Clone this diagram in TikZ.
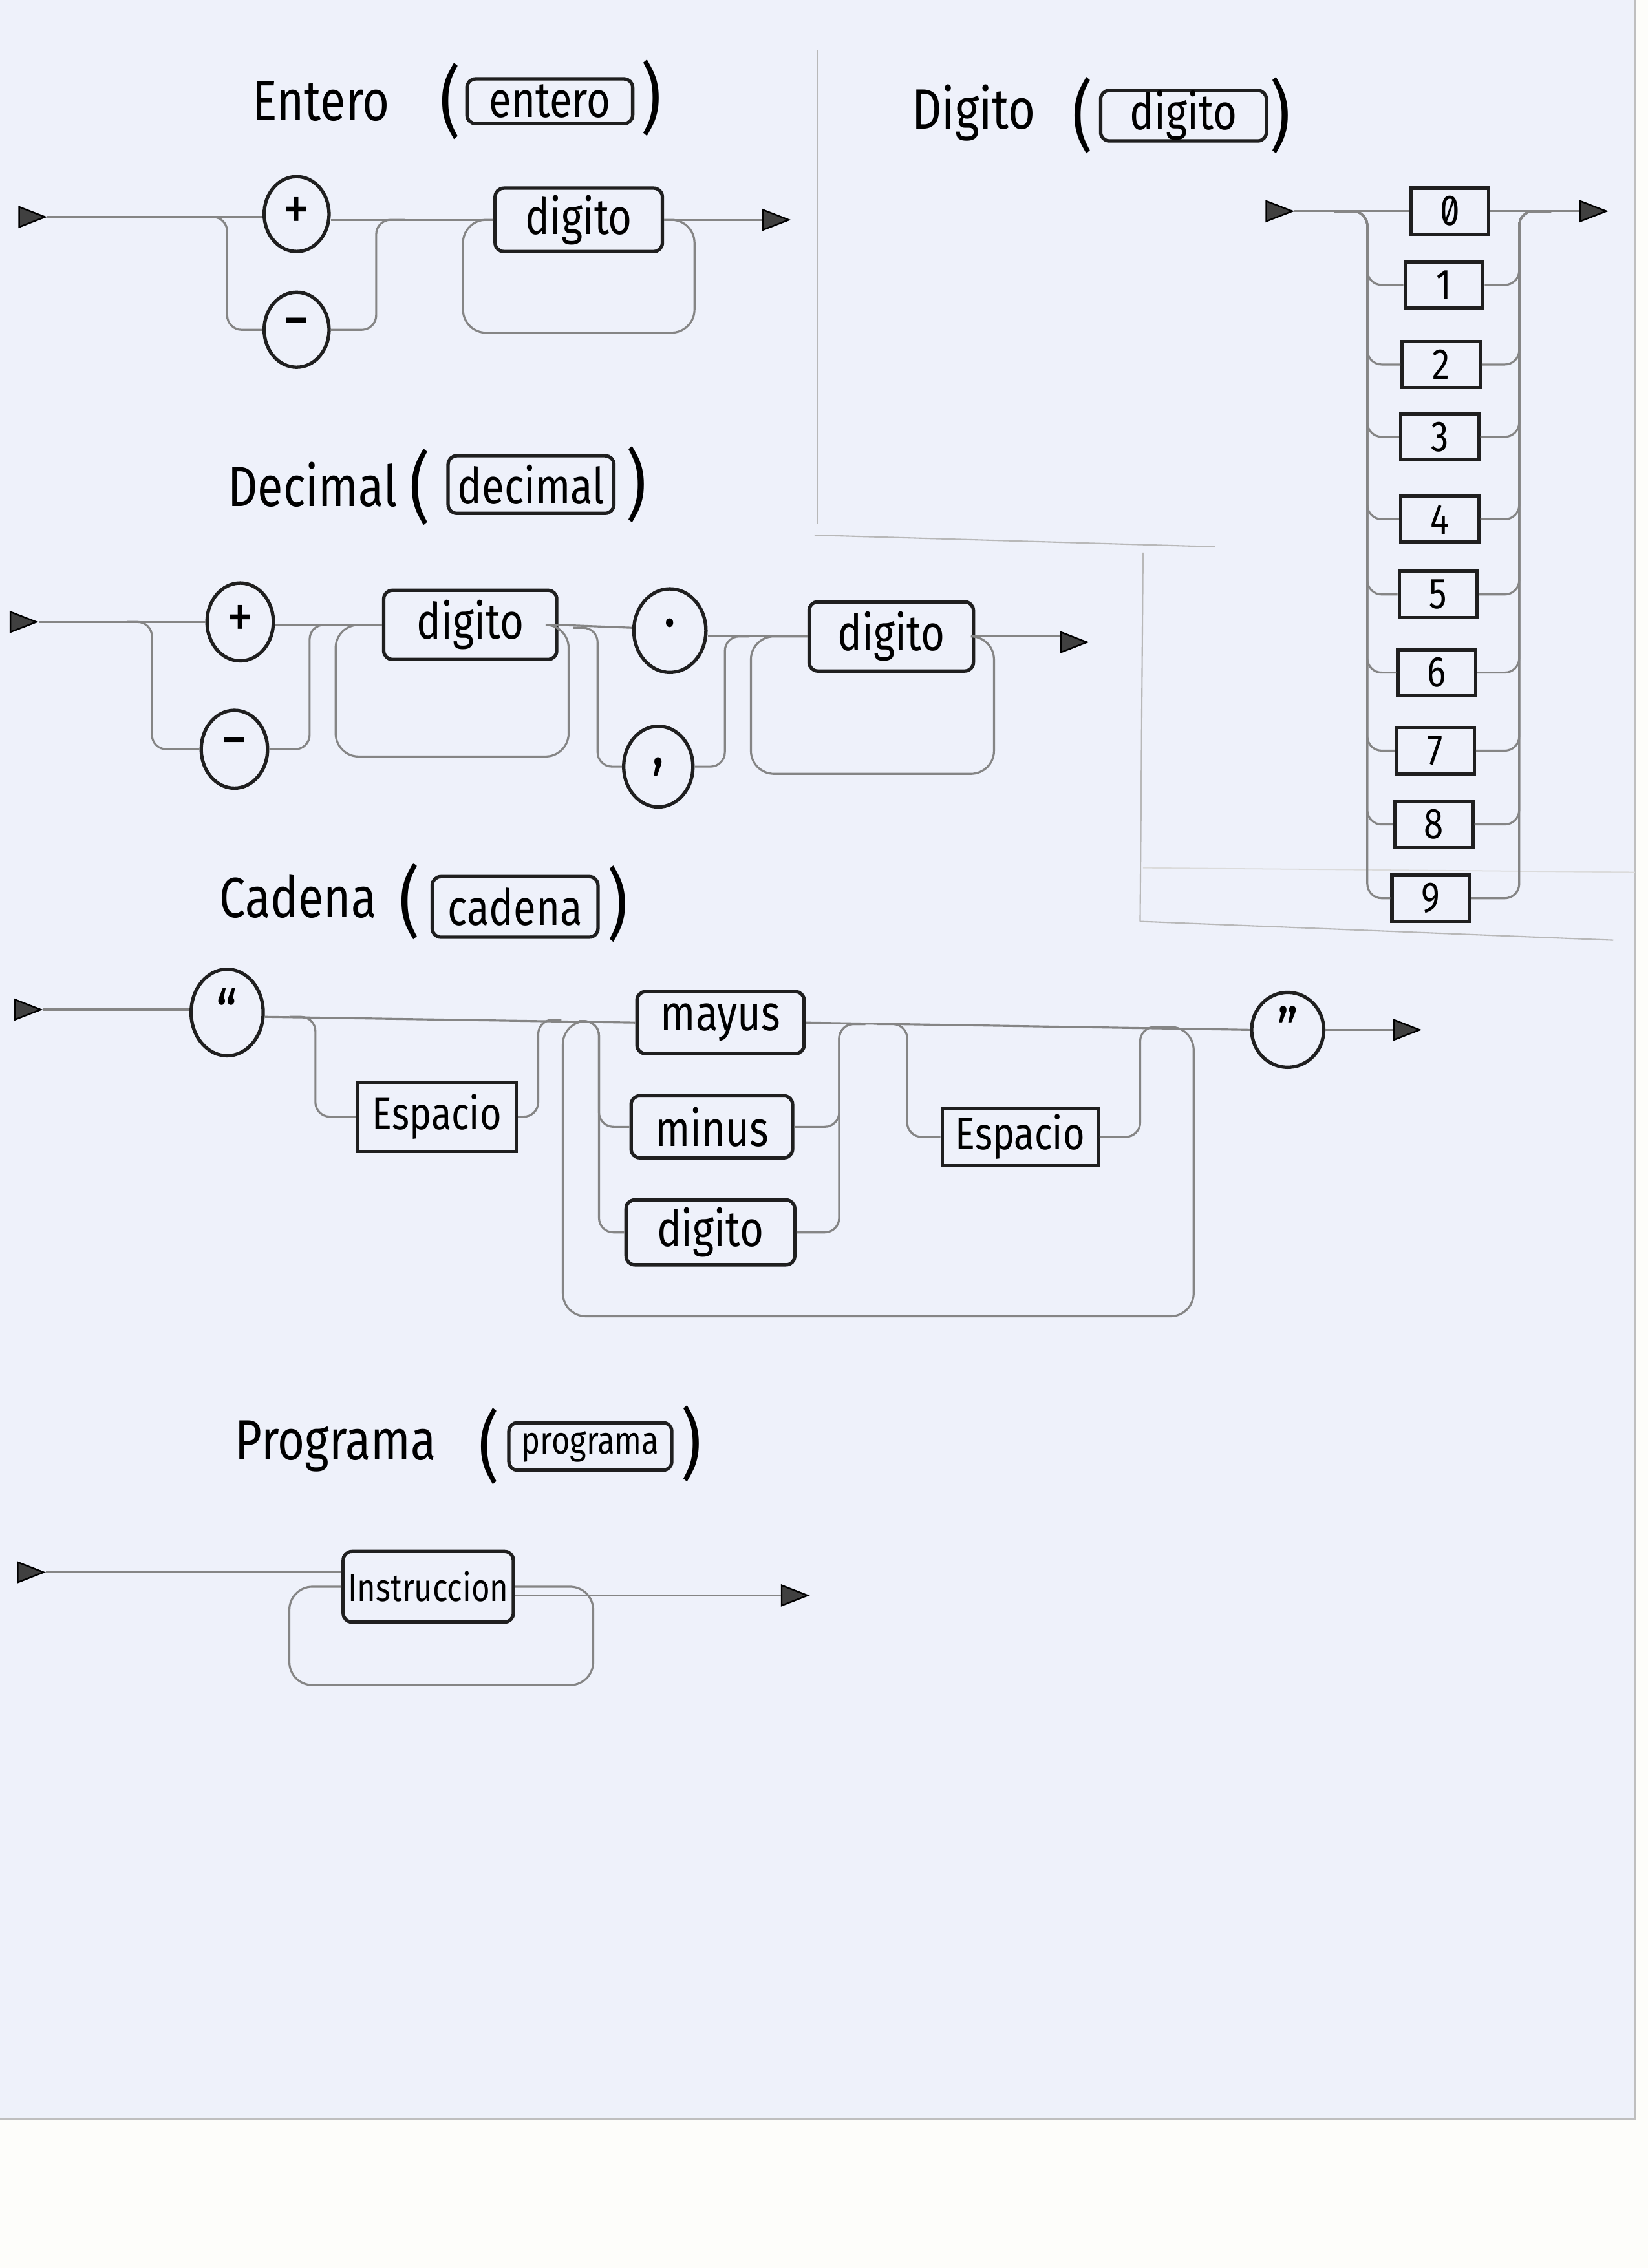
\documentclass[tikz,border=0pt]{standalone}
\usepackage{fontspec}
\setmainfont{Fira Sans}[FakeStretch=0.82]
\usetikzlibrary{shapes.geometric}
\definecolor{paper}{RGB}{238,241,250}
\definecolor{scanwhite}{RGB}{253,253,250}
\def\U{0.6346pt}
\begin{document}
\begin{tikzpicture}[x=0.0223881cm,y=-0.0223881cm,
  wire/.style={draw=black!48,line width=0.9pt,rounded corners=10*\U},
  bigwire/.style={wire,rounded corners=16*\U},
  ink/.style={draw=black!88,line width=1.5pt,fill=paper,inner sep=0pt},
  nt/.style={ink,rectangle,rounded corners=6*\U,font=\fontsize{22}{24}\selectfont},
  sqb/.style={ink,rectangle,font=\fontsize{20}{22}\selectfont},
  bsz/.style 2 args={minimum width=#1*\U,minimum height=#2*\U},
  term/.style={ink,ellipse,minimum width=46*\U,minimum height=54*\U,font=\fontsize{28}{30}\selectfont},
  tri/.style={isosceles triangle,isosceles triangle stretches,draw=black,fill=black!75,line width=0.7pt,inner sep=0pt,minimum width=14*\U,minimum height=18*\U},
  ttl/.style={inner sep=0pt,font=\fontsize{25}{28}\selectfont},
  paren/.style={inner sep=0pt,font=\fontsize{34}{36}\selectfont},
  panel/.style={draw=black!28,line width=0.6pt},
]
\useasboundingbox (0,0) rectangle (1139,1568);
\fill[scanwhite] (0,0) rectangle (1139,1568);
\fill[paper] (0,0) rectangle (1130,1465);
\draw[black!25,line width=0.6pt] (0,1465) -- (1130,1465) -- (1130,0);

% ---------- panel lines ----------
\draw[panel] (565,35) -- (565,362);
\draw[panel] (563,370) -- (840,378);
\draw[panel] (790,382) -- (788,637);
\draw[panel] (788,637) -- (1115,650);
\draw[draw=black!14,line width=0.5pt] (790,600) -- (1130,603);

% ================= ENTERO =================
\node[ttl] (tE) at (222,70) {Entero};
\node[paren] (pE1) at (311,70) {(};
\node[nt,bsz={115}{31}] (bE) at (380,70) {entero};
\node[paren] (pE2) at (450,68) {)};

\node[tri] (E0) at (18,150) {};
\node[term,bsz={45}{52}] (Eplus) at (205,148) {+};
\node[term,bsz={45}{52}] (Eminus) at (205,228) {−};
\node[nt,bsz={116}{44}] (Edig) at (400,152) {digito};
\node[tri] (E9) at (532,152) {};
\coordinate (Ea) at (140,150);
\coordinate (Eb) at (280,152);

\draw[wire] (E0.east) -- (Eplus.west |- E0);
\draw[wire] (Eplus.east |- Eb) -- (Edig.west);
\draw[wire] (Edig.east) -- (E9.west);
\draw[wire] (Ea) -| (157,200) |- (Eminus.west);
\draw[wire] (Eminus.east) -| (260,200) |- (Eb);
\draw[bigwire] (Edig.east) -| (480,190) |- (400,230) -| (320,190) |- (Edig.west);

% ================= DECIMAL =================
\node[ttl] (tD) at (216,335) {Decimal};
\node[paren] (pD1) at (290,337) {(};
\node[nt,bsz={115}{40}] (bD) at (367,335) {decimal};
\node[paren] (pD2) at (440,335) {)};

\node[tri] (D0) at (12,430) {};
\node[term] (Dplus) at (166,430) {+};
\node[term] (Dminus) at (162,518) {−};
\node[nt,bsz={120}{48}] (Ddig1) at (325,432) {digito};
\node[term,bsz={50}{58}] (Ddot) at (463,436) {·};
\node[term,bsz={48}{56}] (Dcomma) at (455,530) {,};
\node[nt,bsz={114}{48}] (Ddig2) at (616,440) {digito};
\node[tri] (D9) at (738,444) {};
\coordinate (Da) at (88,430);
\coordinate (Db) at (232,432);
\coordinate (Dc) at (396,434);
\coordinate (Dd) at (518,440);

\draw[wire] (D0.east) -- (Dplus.west |- D0);
\draw[wire] (Dplus.east |- Db) -- (Ddig1.west);
\draw[wire] (Ddig1.east) -- (Ddot.west |- Dc);
\draw[wire] (Ddot.east |- Dd) -- (Ddig2.west);
\draw[wire] (Ddig2.east) -- (D9.west |- Ddig2);
\draw[wire] (Da) -| (105,480) |- (Dminus.west);
\draw[wire] (Dminus.east) -| (214,480) |- (Db);
\draw[bigwire] (Ddig1.east) -| (393,480) |- (320,523) -| (232,480) |- (Ddig1.west);
\draw[wire] (Dc) -| (413,480) |- (Dcomma.west);
\draw[wire] (Dcomma.east) -| (501,480) |- (Dd);
\draw[bigwire] (Ddig2.east) -| (687,490) |- (600,535) -| (519,490) |- (Ddig2.west);

% ================= DIGITO =================
\node[ttl] (tG) at (673,78) {Digito};
\node[paren] (pG1) at (748,80) {(};
\node[nt,bsz={115}{35}] (bG) at (818,80) {digito};
\node[paren] (pG2) at (885,80) {)};

\node[tri] (G0) at (880,146) {};
\node[tri] (G9) at (1097,146) {};
\coordinate (Ga) at (922,146);
\coordinate (Gb) at (1072,146);
\foreach \k/\xx/\yy in {0/1002/146,1/998/197,2/996/252,3/995/302,4/995/359,5/994/411,6/993/465,7/992/519,8/991/570,9/989/621}{
  \node[sqb,bsz={54}{32},font=\fontsize{19}{20}\selectfont] (g\k) at (\xx,\yy) {\ifnum\k=0 \addfontfeature{Numbers=SlashedZero}\fi\k};
}
\draw[wire] (G0.east) -- (g0.west);
\draw[wire] (g0.east) -- (G9.west);
\foreach \k in {1,...,9}{
  \draw[wire] (Ga) -| (945,170) |- (g\k.west);
  \draw[wire] (g\k.east) -| (1050,170) |- (Gb);
}

% ================= CADENA =================
\node[ttl] (tC) at (206,620) {Cadena};
\node[paren] (pC1) at (283,623) {(};
\node[nt,bsz={115}{42}] (bC) at (356,627) {cadena};
\node[paren] (pC2) at (427,625) {)};

\node[tri] (C0) at (15,698) {};
\node[term,bsz={50}{60}] (Cq1) at (157,700) {“};
\node[sqb,bsz={110}{48}] (Cesp1) at (302,772) {Espacio};
\node[nt,bsz={116}{43}] (Cmay) at (498,707) {mayus};
\node[nt,bsz={112}{43}] (Cmin) at (492,779) {minus};
\node[nt,bsz={117}{45}] (Cdig) at (491,852) {digito};
\node[sqb,bsz={108}{40}] (Cesp2) at (705,786) {Espacio};
\node[term,bsz={50}{52}] (Cq2) at (890,712) {”};
\node[tri] (C9) at (968,712) {};
\coordinate (Ca) at (200,703);
\coordinate (Cb) at (388,705);
\coordinate (Cc) at (400,706);
\coordinate (Cd) at (598,708);
\coordinate (Ce) at (606,708);
\coordinate (Cf) at (806,710);

\draw[wire] (C0.east) -- (Cq1.west |- C0);
\draw[wire] (Cq1.east |- Ca) -- (Cmay.west);
\draw[wire] (Cmay.east) -- (Cq2.west);
\draw[wire] (Cq2.east) -- (C9.west);
\draw[wire] (Ca) -| (218,740) |- (Cesp1.west);
\draw[wire] (Cesp1.east) -| (372,740) |- (Cb);
\draw[wire] (Cc) -| (414,740) |- (Cmin.west);
\draw[wire] (Cc) -| (414,740) |- (Cdig.west);
\draw[wire] (Cmin.east) -| (580,740) |- (Cd);
\draw[wire] (Cdig.east) -| (580,740) |- (Cd);
\draw[wire] (Ce) -| (627,745) |- (Cesp2.west);
\draw[wire] (Cesp2.east) -| (788,745) |- (Cf);
\draw[bigwire] (Cf) -| (825,800) |- (600,910) -| (389,800) |- (Cc);

% ================= PROGRAMA =================
\node[ttl] (tP) at (232,1000) {Programa};
\node[paren] (pP1) at (338,1000) {(};
\node[nt,bsz={113}{33},font=\fontsize{17}{19}\selectfont] (bP) at (408,1000) {programa};
\node[paren] (pP2) at (478,998) {)};

\node[tri] (P0) at (17,1087) {};
\node[nt,bsz={118}{49},font=\fontsize{17}{19}\selectfont] (Pins) at (296,1097) {Instruccion};
\node[tri] (P9) at (545,1103) {};
\draw[wire] (P0.east) -- (Pins.west |- P0);
\draw[wire] (Pins.east |- P9) -- (P9.west);
\draw[bigwire] (Pins.east) -| (410,1130) |- (300,1165) -| (200,1130) |- (Pins.west);
\end{tikzpicture}
\end{document}
